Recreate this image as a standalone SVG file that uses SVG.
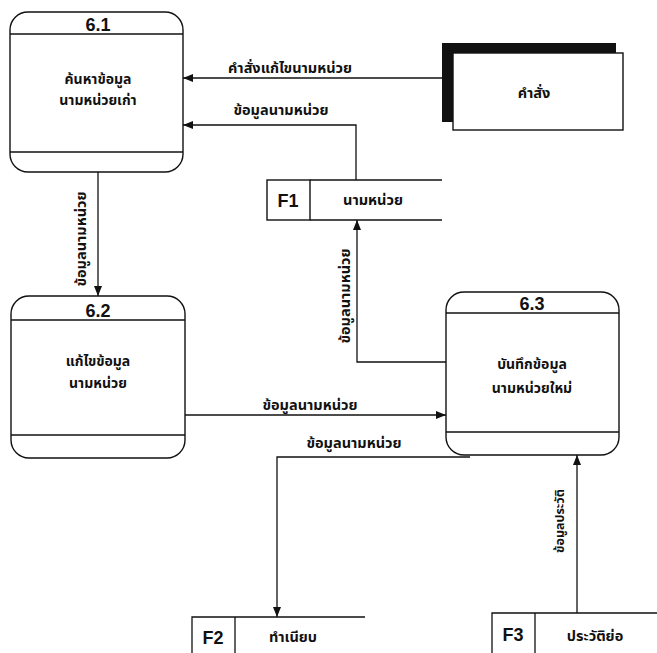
<svg xmlns="http://www.w3.org/2000/svg" width="657" height="653" viewBox="0 0 657 653">
<defs>
<style>
.ln{fill:none;stroke:#111;stroke-width:1.3}
.box{fill:#fff;stroke:#111;stroke-width:1.4}
.th{font-family:"Noto Sans Thai","Noto Sans","Liberation Sans",sans-serif;font-weight:bold;font-size:14.5px;fill:#111;text-anchor:middle}
.nd{font-size:14px}
.num{font-family:"Liberation Sans",Arial,sans-serif;font-weight:bold;font-size:18px;fill:#111;text-anchor:middle}
</style>
<marker id="ah" viewBox="0 0 10 8" refX="10" refY="4" markerWidth="10" markerHeight="8" markerUnits="userSpaceOnUse" orient="auto">
<path d="M0,0 L10,4 L0,8 Z" fill="#111"/>
</marker>
</defs>
<rect width="657" height="653" fill="#fff"/>

<g id="p61">
<rect class="box" x="10" y="12" width="173" height="160" rx="18"/>
<line class="ln" x1="10" y1="34" x2="183" y2="34"/>
<line class="ln" x1="10" y1="152" x2="183" y2="152"/>
<text class="num" x="98" y="31">6.1</text>
<text class="th nd" x="98" y="84">ค้นหาข้อมูล</text>
<text class="th nd" x="98" y="105">นามหน่วยเก่า</text>
</g>

<g id="p62">
<rect class="box" x="11" y="296" width="174" height="162" rx="18"/>
<line class="ln" x1="11" y1="320" x2="185" y2="320"/>
<line class="ln" x1="11" y1="435" x2="185" y2="435"/>
<text class="num" x="98" y="317">6.2</text>
<text class="th nd" x="98" y="366">แก้ไขข้อมูล</text>
<text class="th nd" x="98" y="388">นามหน่วย</text>
</g>

<g id="p63">
<rect class="box" x="446" y="292" width="173" height="163" rx="18"/>
<line class="ln" x1="446" y1="313" x2="619" y2="313"/>
<line class="ln" x1="446" y1="432" x2="619" y2="432"/>
<text class="num" x="532" y="310">6.3</text>
<text class="th nd" x="532" y="369">บันทึกข้อมูล</text>
<text class="th nd" x="532" y="393">นามหน่วยใหม่</text>
</g>

<g id="e1">
<rect x="442" y="43" width="174" height="79" fill="#111"/>
<rect class="box" x="453" y="53" width="170" height="77"/>
<text class="th" x="534" y="98">คำสั่ง</text>
</g>

<g id="f1">
<rect class="box" x="267" y="180" width="43" height="40"/>
<line class="ln" x1="310" y1="180" x2="442" y2="180"/>
<line class="ln" x1="310" y1="220" x2="442" y2="220"/>
<text class="num" x="288" y="207">F1</text>
<text class="th" x="373" y="205">นามหน่วย</text>
</g>

<g id="f2">
<path class="ln" d="M192,653 V617 H365 M235,617 V653"/>
<text class="num" x="213" y="644">F2</text>
<text class="th" x="293" y="642">ทำเนียบ</text>
</g>

<g id="f3">
<path class="ln" d="M492,653 V613 H657 M535,613 V653"/>
<text class="num" x="513" y="641">F3</text>
<text class="th" x="595" y="641">ประวัติย่อ</text>
</g>

<g id="connectors">
<line class="ln" x1="442" y1="78" x2="183" y2="78" marker-end="url(#ah)"/>
<text class="th" x="290" y="73">คำสั่งแก้ไขนามหน่วย</text>

<polyline class="ln" points="356,180 356,125 183,125" marker-end="url(#ah)"/>
<text class="th" x="281" y="115">ข้อมูลนามหน่วย</text>

<line class="ln" x1="98" y1="172" x2="98" y2="296" marker-end="url(#ah)"/>
<text class="th" transform="translate(86,239) rotate(-90)">ข้อมูลนามหน่วย</text>

<polyline class="ln" points="446,362 357,362 357,220" marker-end="url(#ah)"/>
<text class="th" transform="translate(350,296) rotate(-90)">ข้อมูลนามหน่วย</text>

<line class="ln" x1="185" y1="415" x2="446" y2="415" marker-end="url(#ah)"/>
<text class="th" x="310" y="410">ข้อมูลนามหน่วย</text>

<polyline class="ln" points="470,457 277,457 277,617" marker-end="url(#ah)"/>
<text class="th" x="354" y="448">ข้อมูลนามหน่วย</text>

<line class="ln" x1="577" y1="613" x2="577" y2="455" marker-end="url(#ah)"/>
<text class="th" style="font-size:12.5px" transform="translate(564,521) rotate(-90)">ข้อมูลประวัติ</text>
</g>
</svg>
